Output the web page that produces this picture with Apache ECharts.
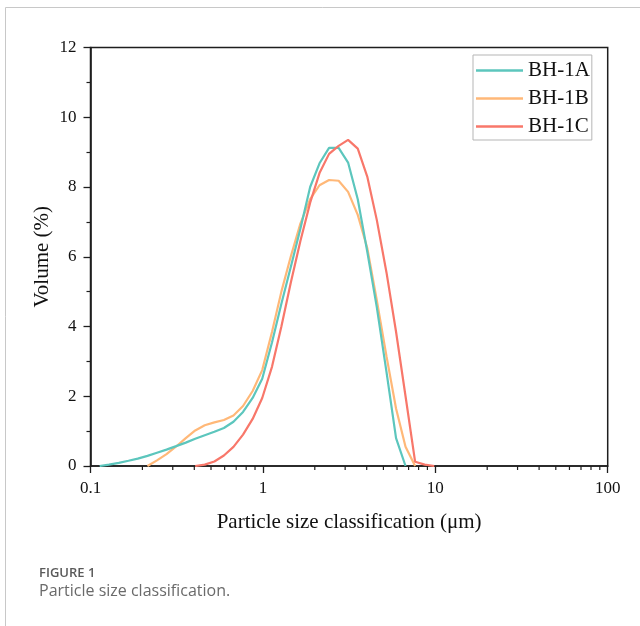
<!DOCTYPE html>
<html>
<head>
<meta charset="utf-8">
<script src="https://cdn.jsdelivr.net/npm/echarts@6/dist/echarts.min.js"></script>
<style>
html,body{margin:0;padding:0;background:#fff;}
#c{width:640px;height:626px;}
</style>
</head>
<body>
<div id="c"></div>
<script>
// Particle size classes (µm)
const sizes = [0.113,0.128,0.146,0.166,0.188,0.214,0.243,0.276,0.314,0.357,0.405,0.460,0.523,0.594,0.675,0.767,0.872,0.991,1.13,1.28,1.45,1.65,1.88,2.13,2.42,2.75,3.12,3.55,4.03,4.58,5.21,5.92,6.72,7.64,8.68,9.86];
// Volume (%)
const bh1a = [0,0.04,0.09,0.15,0.21,0.29,0.38,0.47,0.57,0.67,0.78,0.88,0.98,1.09,1.27,1.55,1.95,2.5,3.55,4.65,5.7,6.8,8.0,8.68,9.12,9.12,8.7,7.65,6.15,4.55,2.7,0.8,0,null,null,null];
const bh1b = [null,null,null,null,null,0,0.16,0.34,0.56,0.8,1.02,1.17,1.25,1.32,1.45,1.72,2.15,2.75,3.85,5.0,6.0,6.95,7.65,8.05,8.2,8.18,7.86,7.2,6.25,4.75,3.15,1.65,0.55,0,null,null];
const bh1c = [null,null,null,null,null,null,null,null,null,null,0,0.04,0.13,0.3,0.55,0.9,1.35,1.95,2.85,4.0,5.25,6.45,7.55,8.4,8.95,9.18,9.35,9.1,8.3,7.05,5.55,3.85,2.0,0.12,0.04,0];
const seriesNames = ['BH-1A','BH-1B','BH-1C'];
const seriesColors = ['#5cc6bd','#ffb878','#f8776a'];
const xTickLabels = ['0.1','1','10','100'];
const xMinorTicks = [0.2,0.3,0.4,0.5,0.6,0.7,0.8,0.9,2,3,4,5,6,7,8,9,20,30,40,50,60,70,80,90];

function pairs(vals){
  const out=[];
  for(let i=0;i<sizes.length;i++){ if(vals[i]!==null) out.push([sizes[i],vals[i]]); }
  return out;
}

const chart = echarts.init(document.getElementById('c'), null, {renderer:'canvas'});
const serif = 'Liberation Serif';
const axisColor = '#1e1e1e';

chart.setOption({
  animation:false,
  backgroundColor:'#fff',
  grid:{left:90.5, right:32.3, top:47.5, bottom:160, show:true, borderColor:axisColor, borderWidth:1.5, backgroundColor:'transparent'},
  legend:{
    data:seriesNames.map(n=>({name:n, icon:'rect'})),
    left:473, top:55, orient:'vertical',
    padding:[5,2,3,3], itemGap:7, itemWidth:47, itemHeight:2.5, itemTextGap:7,
    borderColor:'#b5b5b5', borderWidth:1,
    textStyle:{fontFamily:serif, fontSize:21, lineHeight:21, color:'#111'}
  },
  xAxis:{
    type:'log', logBase:10, min:0.1, max:100,
    name:'Particle size classification (\u03bcm)', nameLocation:'middle', nameGap:46,
    nameMoveOverlap:false,
    nameTextStyle:{fontFamily:serif, fontSize:21, color:'#111'},
    axisLine:{lineStyle:{color:axisColor, width:1.6}},
    axisTick:{length:7, lineStyle:{color:axisColor, width:1.3}},
    axisLabel:{fontFamily:serif, fontSize:17, color:'#111', margin:14,
      formatter:function(v){ const s=String(+(+v).toPrecision(3)); return xTickLabels.indexOf(s)>=0?s:''; }},
    splitLine:{show:false}
  },
  yAxis:{
    type:'value', min:0, max:12, interval:2,
    name:'Volume (%)', nameLocation:'middle', nameGap:38,
    nameMoveOverlap:false,
    nameTextStyle:{fontFamily:serif, fontSize:21, color:'#111'},
    axisLine:{show:true, lineStyle:{color:axisColor, width:1.6}},
    axisTick:{show:true, length:7, lineStyle:{color:axisColor, width:1.3}},
    minorTick:{show:true, splitNumber:2, length:4, lineStyle:{color:axisColor, width:1.2}},
    axisLabel:{fontFamily:serif, fontSize:17, color:'#111', margin:14},
    splitLine:{show:false}
  },
  series:[
    {name:seriesNames[0], type:'line', data:pairs(bh1a), symbol:'none', smooth:false, lineStyle:{width:2.2, color:seriesColors[0]}, itemStyle:{color:seriesColors[0]}, z:3},
    {name:seriesNames[1], type:'line', data:pairs(bh1b), symbol:'none', smooth:false, lineStyle:{width:2.2, color:seriesColors[1]}, itemStyle:{color:seriesColors[1]}, z:2},
    {name:seriesNames[2], type:'line', data:pairs(bh1c), symbol:'none', smooth:false, lineStyle:{width:2.2, color:seriesColors[2]}, itemStyle:{color:seriesColors[2]}, z:4},
    {name:'minor', type:'custom', silent:true, clip:false, z:5,
      data:xMinorTicks.map(v=>[v,0]),
      renderItem:function(params, api){
        const p = api.coord([api.value(0), 0]);
        return {type:'line', shape:{x1:p[0], y1:p[1], x2:p[0], y2:p[1]+4}, style:{stroke:axisColor, lineWidth:1.2}};
      }}
  ],
  graphic:[
    {type:'polyline', shape:{points:[[5.5,626],[5.5,7.5],[640,7.5]]}, style:{stroke:'#c8c8c8', lineWidth:1, fill:null}},
    {type:'text', left:39, top:567, style:{text:'FIGURE 1', font:'600 13px "Open Sans"', fill:'#5a5a5a'}},
    {type:'text', left:39, top:583, style:{text:'Particle size classification.', font:'16px "Open Sans"', fill:'#6a6a6a'}}
  ]
});
</script>
</body>
</html>
